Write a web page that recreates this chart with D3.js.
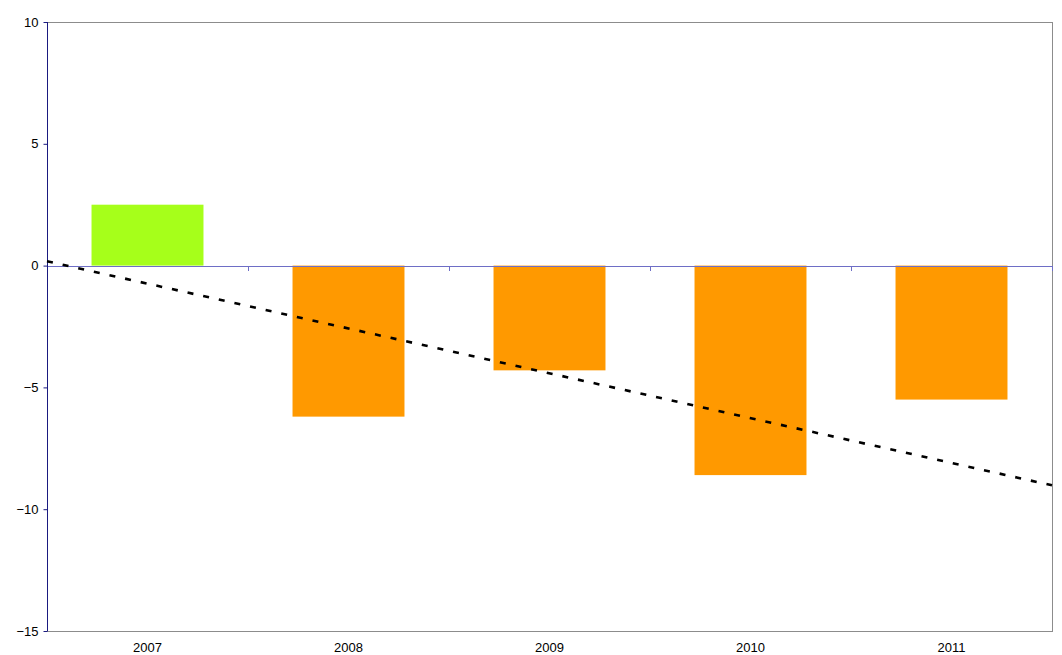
<!DOCTYPE html>
<html>
<head>
<meta charset="utf-8">
<script src="https://cdn.jsdelivr.net/npm/d3@7"></script>
<style>
  body { margin: 0; background: #fff; }
  text { font-family: "Liberation Sans", Arial, sans-serif; font-size: 13px; fill: #000; }
</style>
</head>
<body>
<svg id="chart" width="1062" height="655"></svg>
<script>
// Chart data
var years = ["2007", "2008", "2009", "2010", "2011"];
var values = [2.5, -6.2, -4.3, -8.6, -5.5];
var yTicks = [10, 5, 0, -5, -10, -15];

var margin = {top: 22, right: 10, bottom: 24, left: 47},
    width = 1052 - margin.left,
    height = 631 - margin.top;

var svg = d3.select("#chart");
var g = svg.append("g")
    .attr("transform", "translate(" + margin.left + "," + margin.top + ")");

var x = d3.scaleBand().domain(years).range([0, width]).paddingInner(0.443).paddingOuter(0.2215);
var y = d3.scaleLinear().domain([-15, 10]).range([height, 0]);

// plot border
g.append("rect")
    .attr("x", 0.5).attr("y", 0.5)
    .attr("width", width).attr("height", height)
    .attr("fill", "none").attr("stroke", "#8c8c8c").attr("stroke-width", 1);

// bars
g.selectAll(".bar")
    .data(values)
    .enter()
  .append("rect")
    .attr("class", "bar")
    .attr("x", function(d, i) { return x(years[i]); })
    .attr("width", x.bandwidth())
    .attr("y", function(d) { return y(Math.max(0, d)); })
    .attr("height", function(d) { return Math.abs(y(d) - y(0)); })
    .attr("fill", function(d) { return d >= 0 ? "#a6ff1a" : "#ff9900"; });

// zero line with category boundary ticks
var step = width / years.length;
g.append("line")
    .attr("x1", 0).attr("x2", width)
    .attr("y1", Math.round(y(0)) + 0.5).attr("y2", Math.round(y(0)) + 0.5)
    .attr("stroke", "#6e6ec6").attr("stroke-width", 1);
d3.range(1, years.length + 1).forEach(function(i) {
  var xx = Math.round(i * step) + 0.5;
  g.append("line")
      .attr("x1", xx).attr("x2", xx)
      .attr("y1", Math.round(y(0))).attr("y2", Math.round(y(0)) + 5)
      .attr("stroke", "#6e6ec6").attr("stroke-width", 1);
});

// y axis
var yAxis = g.append("g").attr("transform", "translate(0.5,0)")
    .call(d3.axisLeft(y).tickValues(yTicks).tickSize(4).tickPadding(5).tickFormat(d3.format("d")));
yAxis.select(".domain").attr("stroke", "#1a1a80").attr("d", "M0," + 0 + "V" + height);
yAxis.selectAll(".tick line").attr("stroke", "#1a1a80");
yAxis.selectAll("text").style("font-size", "13px").attr("fill", "#000");

// category labels
g.selectAll(".xlabel")
    .data(years)
    .enter()
  .append("text")
    .attr("class", "xlabel")
    .attr("x", function(d) { return x(d) + x.bandwidth() / 2; })
    .attr("y", height + 21)
    .attr("text-anchor", "middle")
    .text(function(d) { return d; });

// linear trend line (least squares over the bar values)
var n = values.length,
    mx = d3.mean(values, function(d, i) { return i + 1; }),
    my = d3.mean(values);
var sxy = 0, sxx = 0;
values.forEach(function(d, i) {
  sxy += (i + 1 - mx) * (d - my);
  sxx += (i + 1 - mx) * (i + 1 - mx);
});
var slope = sxy / sxx, icpt = my - slope * mx;
var xPos = d3.scaleLinear().domain([0.5, n + 0.5]).range([0, width]);
g.append("line")
    .attr("x1", xPos(0.5)).attr("y1", y(icpt + slope * 0.5))
    .attr("x2", xPos(n + 0.5)).attr("y2", y(icpt + slope * (n + 0.5)))
    .attr("stroke", "#000").attr("stroke-width", 2.6)
    .attr("stroke-dasharray", "6,10");
</script>
</body>
</html>
